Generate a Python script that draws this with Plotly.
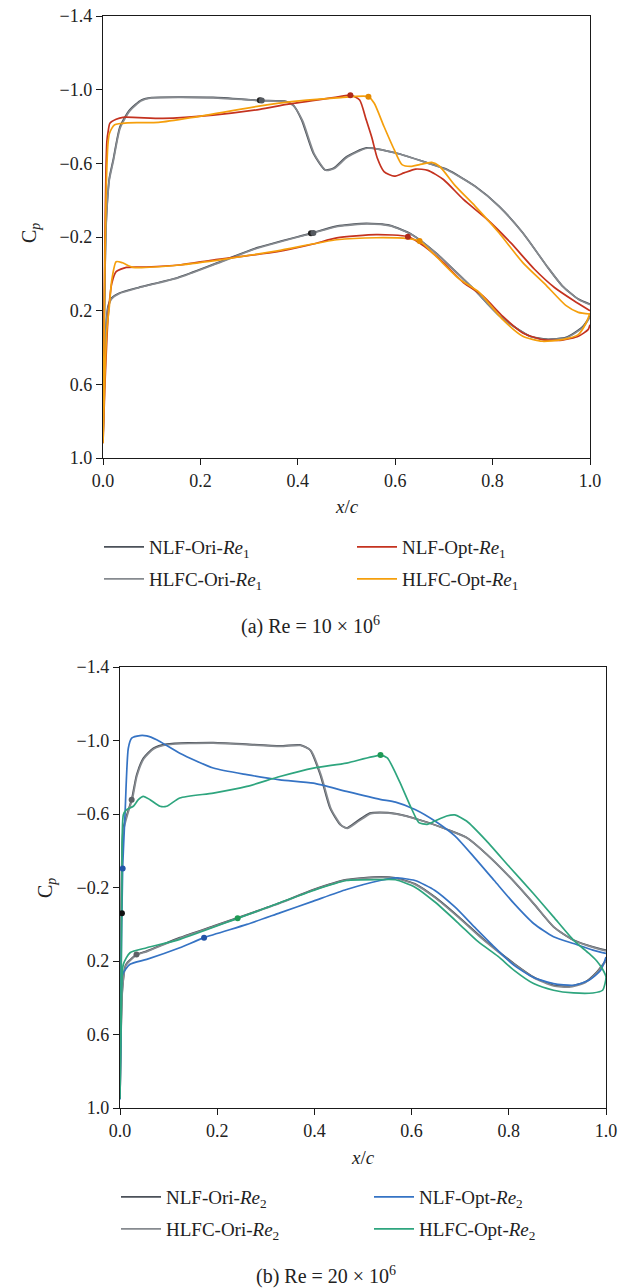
import plotly.graph_objects as go

W, H = 621, 1288

# ---------------- Re1 data (x/c, Cp) ----------------
nlf_ori_re1_up_x = [0.0, 0.002, 0.004, 0.006, 0.009, 0.013, 0.021, 0.035, 0.055, 0.079, 0.100, 0.226, 0.322, 0.377, 0.391, 0.408, 0.432, 0.456, 0.473, 0.500, 0.541, 0.602, 0.667, 0.707, 0.764, 0.813, 0.862, 0.911, 0.943, 0.976, 1.0]
nlf_ori_re1_up_cp = [0.90, 0.40, 0.0, -0.25, -0.40, -0.52, -0.62, -0.80, -0.89, -0.944, -0.957, -0.958, -0.942, -0.936, -0.915, -0.835, -0.654, -0.564, -0.573, -0.636, -0.684, -0.656, -0.602, -0.566, -0.476, -0.368, -0.223, -0.043, 0.065, 0.137, 0.164]
nlf_ori_re1_lo_x = [0.0, 0.003, 0.006, 0.010, 0.018, 0.033, 0.073, 0.154, 0.236, 0.317, 0.427, 0.480, 0.541, 0.589, 0.634, 0.683, 0.740, 0.764, 0.789, 0.813, 0.846, 0.878, 0.911, 0.951, 0.984, 1.0]
nlf_ori_re1_lo_cp = [0.90, 0.55, 0.30, 0.18, 0.13, 0.105, 0.074, 0.02, -0.061, -0.142, -0.22, -0.259, -0.274, -0.263, -0.214, -0.115, 0.029, 0.09, 0.16, 0.225, 0.29, 0.34, 0.355, 0.345, 0.29, 0.23]

hlfc_ori_re1_up_x = [0.0, 0.002, 0.004, 0.006, 0.009, 0.013, 0.021, 0.035, 0.055, 0.079, 0.100, 0.226, 0.325, 0.377, 0.392, 0.410, 0.434, 0.458, 0.475, 0.502, 0.543, 0.604, 0.668, 0.708, 0.765, 0.814, 0.863, 0.912, 0.944, 0.977, 1.0]
hlfc_ori_re1_up_cp = [0.90, 0.42, 0.02, -0.23, -0.39, -0.51, -0.61, -0.79, -0.885, -0.94, -0.955, -0.955, -0.940, -0.933, -0.91, -0.83, -0.65, -0.562, -0.572, -0.634, -0.682, -0.654, -0.600, -0.563, -0.472, -0.364, -0.219, -0.04, 0.068, 0.14, 0.168]
hlfc_ori_re1_lo_x = [0.0, 0.003, 0.006, 0.010, 0.018, 0.033, 0.073, 0.154, 0.236, 0.317, 0.432, 0.482, 0.543, 0.590, 0.636, 0.685, 0.742, 0.766, 0.790, 0.814, 0.847, 0.879, 0.912, 0.952, 0.985, 1.0]
hlfc_ori_re1_lo_cp = [0.90, 0.56, 0.31, 0.19, 0.135, 0.108, 0.076, 0.022, -0.058, -0.139, -0.222, -0.257, -0.271, -0.26, -0.21, -0.11, 0.033, 0.094, 0.164, 0.228, 0.292, 0.342, 0.357, 0.347, 0.292, 0.235]

nlf_opt_re1_up_x = [0.0, 0.002, 0.004, 0.006, 0.008, 0.011, 0.014, 0.027, 0.041, 0.123, 0.226, 0.322, 0.377, 0.473, 0.508, 0.527, 0.540, 0.552, 0.563, 0.577, 0.598, 0.618, 0.642, 0.667, 0.699, 0.740, 0.789, 0.837, 0.886, 0.927, 0.967, 1.0]
nlf_opt_re1_up_cp = [0.92, 0.30, -0.20, -0.55, -0.72, -0.78, -0.817, -0.839, -0.850, -0.844, -0.862, -0.893, -0.920, -0.957, -0.970, -0.944, -0.84, -0.74, -0.63, -0.555, -0.530, -0.548, -0.569, -0.562, -0.512, -0.404, -0.295, -0.169, -0.025, 0.074, 0.146, 0.20]
nlf_opt_re1_lo_x = [0.0, 0.004, 0.008, 0.011, 0.018, 0.027, 0.048, 0.089, 0.157, 0.226, 0.358, 0.432, 0.480, 0.561, 0.626, 0.659, 0.699, 0.740, 0.780, 0.821, 0.862, 0.902, 0.943, 0.976, 0.996, 1.0]
nlf_opt_re1_lo_cp = [0.92, 0.60, 0.35, 0.215, 0.052, -0.012, -0.035, -0.037, -0.048, -0.075, -0.12, -0.162, -0.195, -0.213, -0.202, -0.151, -0.061, 0.047, 0.12, 0.231, 0.321, 0.357, 0.360, 0.339, 0.303, 0.276]

hlfc_opt_re1_up_x = [0.0, 0.002, 0.004, 0.007, 0.010, 0.013, 0.018, 0.024, 0.050, 0.114, 0.195, 0.358, 0.488, 0.545, 0.557, 0.577, 0.598, 0.614, 0.634, 0.650, 0.675, 0.691, 0.724, 0.764, 0.813, 0.862, 0.911, 0.951, 0.976, 1.0]
hlfc_opt_re1_up_cp = [0.92, 0.40, -0.10, -0.50, -0.70, -0.76, -0.79, -0.81, -0.82, -0.822, -0.854, -0.926, -0.957, -0.962, -0.926, -0.80, -0.674, -0.593, -0.584, -0.593, -0.605, -0.584, -0.476, -0.368, -0.223, -0.061, 0.065, 0.173, 0.209, 0.218]
hlfc_opt_re1_lo_x = [0.0, 0.004, 0.008, 0.013, 0.018, 0.027, 0.040, 0.062, 0.157, 0.250, 0.358, 0.480, 0.561, 0.626, 0.650, 0.683, 0.732, 0.772, 0.821, 0.862, 0.902, 0.943, 0.976, 0.992, 1.0]
hlfc_opt_re1_lo_cp = [0.92, 0.55, 0.30, 0.178, 0.034, -0.066, -0.060, -0.035, -0.048, -0.08, -0.125, -0.185, -0.196, -0.191, -0.178, -0.097, 0.029, 0.10, 0.249, 0.339, 0.366, 0.357, 0.33, 0.267, 0.213]

# transition markers Re1: [upper x, lower x], [upper cp, lower cp]
nlf_ori_re1_tr_x = [0.322, 0.427]
nlf_ori_re1_tr_cp = [-0.942, -0.220]
hlfc_ori_re1_tr_x = [0.326, 0.432]
hlfc_ori_re1_tr_cp = [-0.941, -0.222]
nlf_opt_re1_tr_x = [0.508, 0.626]
nlf_opt_re1_tr_cp = [-0.970, -0.202]
hlfc_opt_re1_tr_x = [0.545, 0.650]
hlfc_opt_re1_tr_cp = [-0.962, -0.178]

# ---------------- Re2 data ----------------
nlf_ori_re2_up_x = [0.0, 0.001, 0.002, 0.0034, 0.0069, 0.0206, 0.024, 0.0343, 0.048, 0.0686, 0.096, 0.192, 0.329, 0.370, 0.391, 0.412, 0.432, 0.453, 0.466, 0.487, 0.514, 0.535, 0.567, 0.624, 0.672, 0.713, 0.754, 0.802, 0.851, 0.892, 0.933, 0.973, 1.0]
nlf_ori_re2_up_cp = [0.95, 0.50, 0.10, -0.307, -0.524, -0.651, -0.678, -0.814, -0.904, -0.958, -0.980, -0.989, -0.971, -0.976, -0.949, -0.814, -0.633, -0.542, -0.524, -0.560, -0.605, -0.609, -0.602, -0.562, -0.517, -0.472, -0.382, -0.256, -0.112, 0.014, 0.086, 0.123, 0.141]
nlf_ori_re2_lo_x = [0.0, 0.002, 0.005, 0.012, 0.034, 0.055, 0.123, 0.192, 0.261, 0.329, 0.398, 0.466, 0.535, 0.567, 0.607, 0.648, 0.697, 0.746, 0.778, 0.811, 0.851, 0.892, 0.924, 0.957, 0.981, 1.0]
nlf_ori_re2_lo_cp = [0.95, 0.60, 0.35, 0.22, 0.165, 0.146, 0.073, 0.010, -0.053, -0.117, -0.189, -0.243, -0.258, -0.252, -0.220, -0.148, -0.040, 0.077, 0.146, 0.214, 0.287, 0.332, 0.338, 0.314, 0.26, 0.196]

hlfc_ori_re2_up_x = [0.0, 0.001, 0.002, 0.0036, 0.0072, 0.021, 0.025, 0.035, 0.049, 0.070, 0.098, 0.192, 0.330, 0.372, 0.393, 0.414, 0.434, 0.455, 0.468, 0.489, 0.516, 0.537, 0.569, 0.626, 0.674, 0.715, 0.756, 0.804, 0.853, 0.894, 0.935, 0.975, 1.0]
hlfc_ori_re2_up_cp = [0.95, 0.52, 0.12, -0.29, -0.51, -0.645, -0.675, -0.808, -0.90, -0.955, -0.977, -0.986, -0.968, -0.973, -0.945, -0.81, -0.63, -0.54, -0.522, -0.557, -0.602, -0.606, -0.599, -0.559, -0.514, -0.468, -0.378, -0.252, -0.108, 0.018, 0.09, 0.127, 0.145]
hlfc_ori_re2_lo_x = [0.0, 0.002, 0.005, 0.012, 0.034, 0.055, 0.123, 0.192, 0.261, 0.329, 0.398, 0.466, 0.535, 0.567, 0.607, 0.648, 0.697, 0.746, 0.778, 0.811, 0.851, 0.892, 0.924, 0.957, 0.981, 1.0]
hlfc_ori_re2_lo_cp = [0.95, 0.62, 0.36, 0.225, 0.168, 0.149, 0.076, 0.013, -0.05, -0.114, -0.186, -0.24, -0.255, -0.249, -0.217, -0.145, -0.036, 0.081, 0.15, 0.218, 0.291, 0.336, 0.342, 0.318, 0.264, 0.20]

nlf_opt_re2_up_x = [0.0, 0.002, 0.0055, 0.0103, 0.0171, 0.024, 0.0412, 0.0549, 0.0754, 0.123, 0.192, 0.261, 0.329, 0.398, 0.466, 0.535, 0.567, 0.607, 0.648, 0.689, 0.729, 0.770, 0.811, 0.851, 0.892, 0.933, 0.973, 1.0]
nlf_opt_re2_up_cp = [0.95, 0.30, -0.303, -0.596, -0.958, -1.013, -1.027, -1.025, -1.004, -0.931, -0.850, -0.814, -0.786, -0.768, -0.723, -0.68, -0.665, -0.625, -0.562, -0.481, -0.364, -0.238, -0.112, -0.004, 0.068, 0.105, 0.141, 0.159]
nlf_opt_re2_lo_x = [0.0, 0.002, 0.0055, 0.0206, 0.055, 0.123, 0.173, 0.261, 0.329, 0.398, 0.466, 0.535, 0.567, 0.607, 0.648, 0.689, 0.729, 0.770, 0.811, 0.851, 0.892, 0.933, 0.965, 0.989, 1.0]
nlf_opt_re2_lo_cp = [0.95, 0.60, 0.272, 0.218, 0.191, 0.128, 0.073, 0.001, -0.062, -0.126, -0.189, -0.238, -0.252, -0.238, -0.184, -0.094, 0.014, 0.123, 0.224, 0.29, 0.323, 0.332, 0.305, 0.251, 0.178]

hlfc_opt_re2_up_x = [0.0, 0.002, 0.004, 0.0069, 0.0137, 0.0274, 0.0377, 0.048, 0.0617, 0.0823, 0.096, 0.123, 0.192, 0.261, 0.329, 0.398, 0.466, 0.535, 0.550, 0.575, 0.599, 0.615, 0.632, 0.648, 0.672, 0.689, 0.713, 0.754, 0.802, 0.851, 0.892, 0.933, 0.965, 0.981, 0.993, 1.0]
hlfc_opt_re2_up_cp = [0.95, 0.40, -0.20, -0.596, -0.624, -0.642, -0.678, -0.696, -0.678, -0.642, -0.642, -0.687, -0.714, -0.750, -0.804, -0.850, -0.877, -0.919, -0.905, -0.778, -0.634, -0.553, -0.544, -0.562, -0.589, -0.595, -0.562, -0.454, -0.310, -0.166, -0.040, 0.086, 0.159, 0.20, 0.245, 0.287]
hlfc_opt_re2_lo_x = [0.0, 0.002, 0.0069, 0.0206, 0.055, 0.123, 0.242, 0.329, 0.398, 0.466, 0.535, 0.567, 0.607, 0.648, 0.697, 0.737, 0.778, 0.811, 0.851, 0.892, 0.933, 0.973, 0.993, 1.0]
hlfc_opt_re2_lo_cp = [0.95, 0.60, 0.218, 0.155, 0.128, 0.082, -0.032, -0.117, -0.184, -0.238, -0.243, -0.242, -0.202, -0.121, -0.004, 0.095, 0.175, 0.251, 0.323, 0.359, 0.374, 0.374, 0.359, 0.287]

nlf_ori_re2_tr_x = [0.004]
nlf_ori_re2_tr_cp = [-0.06]
hlfc_ori_re2_tr_x = [0.024, 0.034]
hlfc_ori_re2_tr_cp = [-0.678, 0.165]
nlf_opt_re2_tr_x = [0.0055, 0.173]
nlf_opt_re2_tr_cp = [-0.303, 0.073]
hlfc_opt_re2_tr_x = [0.536, 0.242]
hlfc_opt_re2_tr_cp = [-0.921, -0.032]

x_ticks = [0.0, 0.2, 0.4, 0.6, 0.8, 1.0]
x_ticktext = ["0.0", "0.2", "0.4", "0.6", "0.8", "1.0"]
y_ticks = [-1.4, -1.0, -0.6, -0.2, 0.2, 0.6, 1.0]
y_ticktext = ["\u22121.4", "\u22121.0", "\u22120.6", "\u22120.2", "0.2", "0.6", "1.0"]

names_re1 = ["NLF-Ori-<i>Re</i><sub>1</sub>", "HLFC-Ori-<i>Re</i><sub>1</sub>",
             "NLF-Opt-<i>Re</i><sub>1</sub>", "HLFC-Opt-<i>Re</i><sub>1</sub>"]
names_re2 = ["NLF-Ori-<i>Re</i><sub>2</sub>", "HLFC-Ori-<i>Re</i><sub>2</sub>",
             "NLF-Opt-<i>Re</i><sub>2</sub>", "HLFC-Opt-<i>Re</i><sub>2</sub>"]

C_ORI = "#4b5159"
C_ORI2 = "#868a8f"
C_RED = "#c4321f"
C_ORA = "#f59f0c"
C_BLU = "#3573c4"
C_GRN = "#2ea57e"

FONT = "Liberation Serif"


def loop(ux, uc, lx, lc):
    return list(reversed(ux)) + list(lx), list(reversed(uc)) + list(lc)


fig = go.Figure()

series_re1 = [
    (names_re1[0], C_ORI, nlf_ori_re1_up_x, nlf_ori_re1_up_cp, nlf_ori_re1_lo_x, nlf_ori_re1_lo_cp, nlf_ori_re1_tr_x, nlf_ori_re1_tr_cp, "#222222", "legend"),
    (names_re1[1], C_ORI2, hlfc_ori_re1_up_x, hlfc_ori_re1_up_cp, hlfc_ori_re1_lo_x, hlfc_ori_re1_lo_cp, hlfc_ori_re1_tr_x, hlfc_ori_re1_tr_cp, "#555a60", "legend2"),
    (names_re1[2], C_RED, nlf_opt_re1_up_x, nlf_opt_re1_up_cp, nlf_opt_re1_lo_x, nlf_opt_re1_lo_cp, nlf_opt_re1_tr_x, nlf_opt_re1_tr_cp, "#b02a1a", "legend"),
    (names_re1[3], C_ORA, hlfc_opt_re1_up_x, hlfc_opt_re1_up_cp, hlfc_opt_re1_lo_x, hlfc_opt_re1_lo_cp, hlfc_opt_re1_tr_x, hlfc_opt_re1_tr_cp, "#e58a00", "legend2"),
]
series_re2 = [
    (names_re2[0], C_ORI, nlf_ori_re2_up_x, nlf_ori_re2_up_cp, nlf_ori_re2_lo_x, nlf_ori_re2_lo_cp, nlf_ori_re2_tr_x, nlf_ori_re2_tr_cp, "#111111", "legend3"),
    (names_re2[1], C_ORI2, hlfc_ori_re2_up_x, hlfc_ori_re2_up_cp, hlfc_ori_re2_lo_x, hlfc_ori_re2_lo_cp, hlfc_ori_re2_tr_x, hlfc_ori_re2_tr_cp, "#5d6166", "legend4"),
    (names_re2[2], C_BLU, nlf_opt_re2_up_x, nlf_opt_re2_up_cp, nlf_opt_re2_lo_x, nlf_opt_re2_lo_cp, nlf_opt_re2_tr_x, nlf_opt_re2_tr_cp, "#2355a8", "legend3"),
    (names_re2[3], C_GRN, hlfc_opt_re2_up_x, hlfc_opt_re2_up_cp, hlfc_opt_re2_lo_x, hlfc_opt_re2_lo_cp, hlfc_opt_re2_tr_x, hlfc_opt_re2_tr_cp, "#1f9a55", "legend4"),
]

for series, xa, ya in [(series_re1, "x", "y"), (series_re2, "x2", "y2")]:
    for name, col, ux, uc, lx, lc, tx, tc, mcol, leg in series:
        xs, ys = loop(ux, uc, lx, lc)
        fig.add_trace(go.Scatter(x=xs, y=ys, mode="lines", name=name,
                                 line=dict(color=col, width=1.7, shape="spline", smoothing=0.6),
                                 xaxis=xa, yaxis=ya, legend=leg, showlegend=True))
    for name, col, ux, uc, lx, lc, tx, tc, mcol, leg in series:
        fig.add_trace(go.Scatter(x=tx, y=tc, mode="markers", showlegend=False,
                                 marker=dict(color=mcol, size=6),
                                 xaxis=xa, yaxis=ya, hoverinfo="skip"))


def px_x(p):
    return p / W


def px_y(p):
    return 1 - p / H


axis_common = dict(showline=True, linecolor="#1a1a1a", linewidth=1.3, mirror=True,
                   ticks="outside", ticklen=6, tickwidth=1.3, tickcolor="#1a1a1a",
                   showgrid=False, zeroline=False,
                   tickfont=dict(family=FONT, size=18, color="#222222"))

fig.update_layout(
    width=W, height=H,
    margin=dict(l=0, r=0, t=0, b=0, autoexpand=False),
    paper_bgcolor="white", plot_bgcolor="white",
    font=dict(family=FONT, size=18, color="#222222"),
    xaxis=dict(domain=[px_x(103), px_x(590)], range=[0, 1], tickvals=x_ticks, ticktext=x_ticktext,
               anchor="y", **axis_common),
    yaxis=dict(domain=[px_y(458), px_y(16)], range=[1.0, -1.4], tickvals=y_ticks, ticktext=y_ticktext,
               anchor="x", **axis_common),
    xaxis2=dict(domain=[px_x(120), px_x(606)], range=[0, 1], tickvals=x_ticks, ticktext=x_ticktext,
                anchor="y2", **axis_common),
    yaxis2=dict(domain=[px_y(1108), px_y(667)], range=[1.0, -1.4], tickvals=y_ticks, ticktext=y_ticktext,
                anchor="x2", **axis_common),
)

leg_common = dict(orientation="h", xanchor="left", yanchor="middle", entrywidth=198,
                  entrywidthmode="pixels", itemwidth=40, bgcolor="rgba(0,0,0,0)", borderwidth=0,
                  font=dict(family=FONT, size=19, color="#222222"))
fig.update_layout(
    legend=dict(x=px_x(99), y=px_y(547), **leg_common),
    legend2=dict(x=px_x(99), y=px_y(579), **leg_common),
    legend3=dict(x=px_x(116), y=px_y(1197), **leg_common),
    legend4=dict(x=px_x(116), y=px_y(1229), **leg_common),
)

ann = []
common_ann = dict(xref="paper", yref="paper", showarrow=False, xanchor="center", yanchor="middle")
# axis titles
ann.append(dict(text="<i>x</i>/<i>c</i>", x=px_x(347), y=px_y(507), font=dict(family=FONT, size=19), **common_ann))
ann.append(dict(text="<i>x</i>/<i>c</i>", x=px_x(363), y=px_y(1157), font=dict(family=FONT, size=19), **common_ann))
ann.append(dict(text="C<sub><i>p</i></sub>", x=px_x(30), y=px_y(233), textangle=-90,
                font=dict(family=FONT, size=20), **common_ann))
ann.append(dict(text="C<sub><i>p</i></sub>", x=px_x(46), y=px_y(888), textangle=-90,
                font=dict(family=FONT, size=20), **common_ann))
# captions
ann.append(dict(text="(a) Re = 10 \u00d7 10<sup>6</sup>", x=px_x(310), y=px_y(625),
                font=dict(family=FONT, size=20), **common_ann))
ann.append(dict(text="(b) Re = 20 \u00d7 10<sup>6</sup>", x=px_x(326), y=px_y(1275),
                font=dict(family=FONT, size=20), **common_ann))
fig.update_layout(annotations=ann)

fig.write_html("out.html")
